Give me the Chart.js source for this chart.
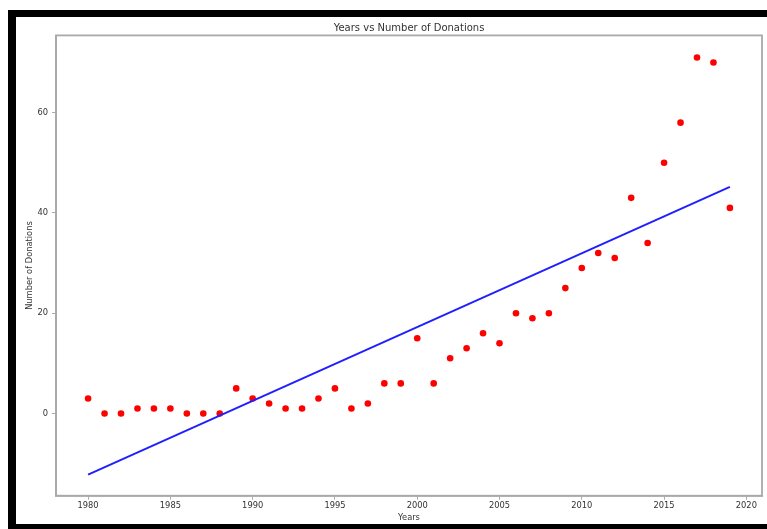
<!DOCTYPE html>
<html>
<head>
<meta charset="utf-8">
<script src="https://cdn.jsdelivr.net/npm/chart.js@4/dist/chart.umd.min.js"></script>
<style>
  html, body { margin: 0; padding: 0; background: #fff; }
  #wrap { position: relative; width: 767px; height: 529px; overflow: hidden; }
  #frame {
    position: absolute; left: 8px; top: 10px; width: 800px; height: 519px;
    border-top: 7px solid #000; border-left: 8px solid #000; border-bottom: 5px solid #000;
    box-sizing: border-box;
  }
  canvas { position: absolute; left: 0; top: 0; }
</style>
</head>
<body>
<div id="wrap">
  <div id="frame"></div>
  <canvas id="myChart" width="767" height="529"></canvas>
</div>
<script>
  const years = [1980, 1981, 1982, 1983, 1984, 1985, 1986, 1987, 1988, 1989,
                 1990, 1991, 1992, 1993, 1994, 1995, 1996, 1997, 1998, 1999,
                 2000, 2001, 2002, 2003, 2004, 2005, 2006, 2007, 2008, 2009,
                 2010, 2011, 2012, 2013, 2014, 2015, 2016, 2017, 2018, 2019];
  const donations = [3, 0, 0, 1, 1, 1, 0, 0, 0, 5,
                     3, 2, 1, 1, 3, 5, 1, 2, 6, 6,
                     15, 6, 11, 13, 16, 14, 20, 19, 20, 25,
                     29, 32, 31, 43, 34, 50, 58, 71, 70, 41];
  // fitted line, read at its two ends
  const lineYears = [1980, 2019];
  const lineValues = [-12.2, 45.2];

  const xTicks = [1980, 1985, 1990, 1995, 2000, 2005, 2010, 2015, 2020];
  const yTicks = [0, 20, 40, 60];

  const axisGray = '#a9a9a9';
  const textColor = '#333';

  const boxPlugin = {
    id: 'box',
    afterDraw(chart) {
      const { ctx, chartArea: a } = chart;
      ctx.save();
      ctx.strokeStyle = axisGray;
      ctx.lineWidth = 1.8;
      ctx.strokeRect(a.left, a.top, a.right - a.left, a.bottom - a.top);
      ctx.restore();
    }
  };

  new Chart(document.getElementById('myChart'), {
    type: 'scatter',
    data: {
      datasets: [{
        type: 'line',
        data: lineYears.map((x, i) => ({ x: x, y: lineValues[i] })),
        borderColor: '#2020ff',
        borderWidth: 2,
        pointRadius: 0,
        fill: false
      }, {
        data: years.map((x, i) => ({ x: x, y: donations[i] })),
        backgroundColor: '#ff0000',
        borderColor: '#ff0000',
        pointRadius: 3.3,
        borderWidth: 0
      }]
    },
    options: {
      responsive: false,
      animation: false,
      layout: { padding: { left: 16, top: 17, right: 5, bottom: 5 } },
      plugins: {
        legend: { display: false },
        tooltip: { enabled: false },
        title: {
          display: true,
          text: 'Years vs Number of Donations',
          fullSize: false,
          color: textColor,
          font: { family: 'DejaVu Sans', size: 10, weight: 'normal' },
          padding: { top: 5, bottom: 1.4 }
        }
      },
      scales: {
        x: {
          type: 'linear',
          min: 1978.05,
          max: 2020.95,
          afterFit(s) { s.height = 28.3; },
          afterBuildTicks(s) { s.ticks = xTicks.map(v => ({ value: v })); },
          ticks: { color: textColor, font: { family: 'DejaVu Sans', size: 8.3 }, padding: 1, callback: v => String(v), maxRotation: 0 },
          grid: { drawOnChartArea: false, drawTicks: true, tickLength: 4, color: axisGray },
          border: { display: true, color: axisGray, width: 1.8 },
          title: { display: true, text: 'Years', color: textColor, font: { family: 'DejaVu Sans', size: 8.3 }, padding: { top: 0, bottom: 1.5 } }
        },
        y: {
          min: -16.4,
          max: 75.4,
          afterFit(s) { s.width = 40; },
          afterBuildTicks(s) { s.ticks = yTicks.map(v => ({ value: v })); },
          ticks: { color: textColor, font: { family: 'DejaVu Sans', size: 8.3 }, padding: 4, callback: v => String(v) },
          grid: { drawOnChartArea: false, drawTicks: true, tickLength: 4, color: axisGray },
          border: { display: true, color: axisGray, width: 1.8 },
          title: { display: true, text: 'Number of Donations', color: textColor, font: { family: 'DejaVu Sans', size: 8.3 }, padding: { top: 9, bottom: 0 } }
        }
      }
    },
    plugins: [boxPlugin]
  });
</script>
</body>
</html>
